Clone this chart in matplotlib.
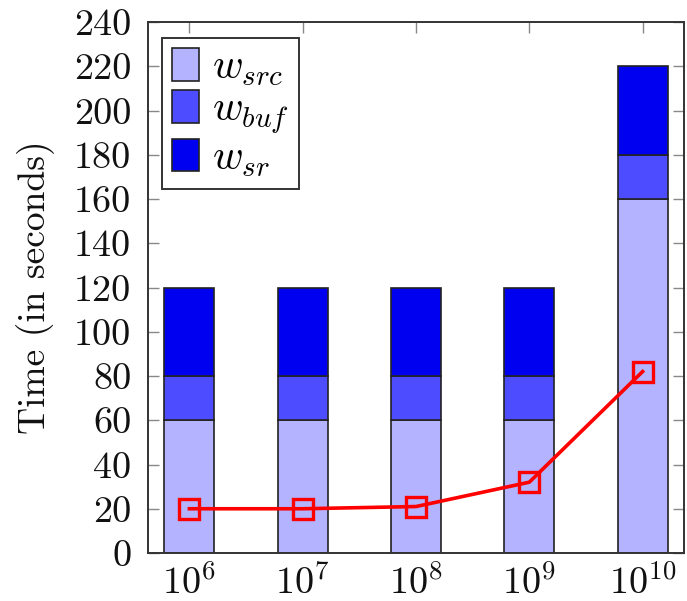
import matplotlib
matplotlib.use('Agg')
import matplotlib.pyplot as plt
import numpy as np
from matplotlib.ticker import LogLocator, NullFormatter
from matplotlib.patches import Patch

plt.rcParams['font.family'] = 'serif'
plt.rcParams['font.serif'] = ['cmr10', 'DejaVu Serif']
plt.rcParams['mathtext.fontset'] = 'cm'
plt.rcParams['axes.unicode_minus'] = False

# ---- data ----
sizes = [1e6, 1e7, 1e8, 1e9, 1e10]
tick_labels = [r'$10^{6}$', r'$10^{7}$', r'$10^{8}$', r'$10^{9}$', r'$10^{10}$']
w_src = [60, 60, 60, 60, 160]
w_buf = [20, 20, 20, 20, 20]
w_sr = [40, 40, 40, 40, 40]
line_vals = [20, 20, 21, 32, 82]
y_ticks = list(range(0, 241, 20))
series_labels = [r'$w_{src}$', r'$w_{buf}$', r'$w_{sr}$']
colors = ['#B3B3FF', '#4D4DFF', '#0000F0']

W, H = 687, 601
fig = plt.figure(figsize=(W / 100, H / 100), dpi=100)
ax = fig.add_axes([148 / W, 1 - 553 / H, (684 - 148) / W, (553 - 22) / H])
ax.set_xscale('log')

x = np.array(sizes)
half = 0.22
left = x * 10 ** (-half)
width = x * (10 ** half - 10 ** (-half))
bottom = np.zeros(len(x))
for vals, c in zip([w_src, w_buf, w_sr], colors):
    ax.bar(left, vals, width=width, bottom=bottom, align='edge', color=c,
           edgecolor='#222222', linewidth=1.2, zorder=2)
    bottom += np.array(vals)

ax.plot(x, line_vals, color='#FF0000', linewidth=2.6, marker='s', markersize=14,
        markerfacecolor='none', markeredgecolor='#FF0000', markeredgewidth=2.4, zorder=3)

e = 0.3655
ax.set_xlim(10 ** (6 - e), 10 ** (10 + e))
ax.set_ylim(0, 240)
ax.set_yticks(y_ticks)
ax.set_xticks(sizes)
ax.set_xticklabels(tick_labels)
ax.xaxis.set_minor_locator(LogLocator(base=10, subs=np.arange(2, 10)))
ax.xaxis.set_minor_formatter(NullFormatter())
ax.set_axisbelow(True)

ax.tick_params(which='both', direction='in', top=True, right=True,
               color='#888888', width=1.0, labelsize=27.5, labelcolor='#111111')
ax.tick_params(which='major', length=8)
ax.tick_params(axis='y', which='major', pad=12)
ax.tick_params(axis='x', which='major', pad=8)
ax.tick_params(which='minor', length=5)
for s in ax.spines.values():
    s.set_color('#333333')
    s.set_linewidth(1.4)

ax.set_ylabel('Time (in seconds)', fontsize=27, labelpad=14, color='#111111')

handles = [Patch(facecolor=c, edgecolor='#222222', linewidth=1.2) for c in colors]
leg = ax.legend(handles, series_labels, loc='upper left', bbox_to_anchor=(0.026, 0.970),
                borderaxespad=0, fontsize=30, handlelength=0.65, handleheight=0.84,
                handletextpad=0.3, labelspacing=0.05, borderpad=0.25,
                fancybox=False, framealpha=1, edgecolor='#333333')
leg.get_frame().set_linewidth(1.4)

fig.savefig('out.png', dpi=100)
